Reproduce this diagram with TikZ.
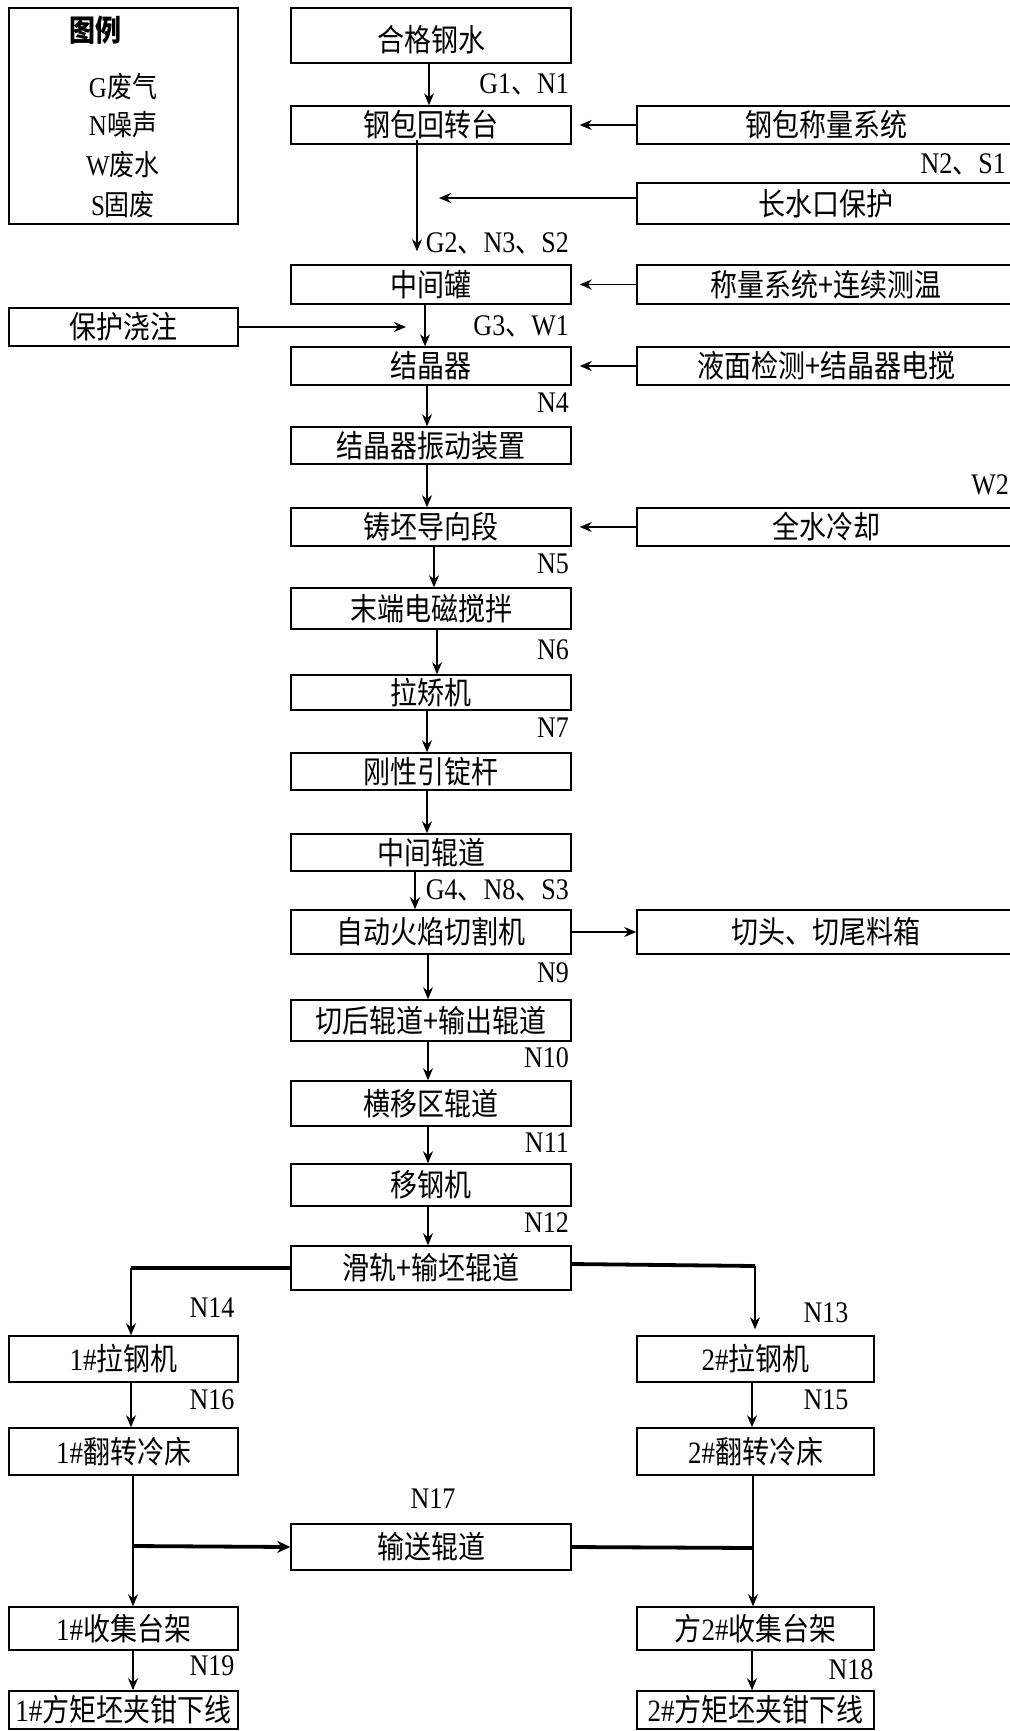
\documentclass[tikz,border=0pt]{standalone}
\usepackage{graphicx}
\usepackage{fontspec}
\setmainfont{Noto Sans CJK SC}
\newfontfamily\cjk{Noto Sans CJK SC}
\newfontfamily\tnr{Liberation Serif}
\usetikzlibrary{arrows.meta}
\newcommand\tl[1]{\scalebox{1}[1.15]{#1}}
\newcommand\dun{{\cjk 、}}
\newcommand\hs[1]{{\tnr #1}}
\begin{document}
\begin{tikzpicture}[x=1pt,y=-1pt,
  box/.style={draw, line width=1.5pt, inner sep=0pt, font=\fontsize{27}{30}\selectfont},
  lab/.style={inner sep=0pt, font=\tnr\fontsize{26}{28}\selectfont},
  arr/.style={-{Stealth[length=12pt,width=10pt]}, line width=1.2pt},
  heavy/.style={line width=3.8pt},
  heavyarr/.style={-{Stealth[length=13pt,width=12pt]}, line width=3.8pt}
]
\useasboundingbox (0,0) rectangle (1009,1731);
\fill[white] (0,0) rectangle (1009,1731);

% legend
\node[box, minimum width=229pt, minimum height=216pt] (leg) at (123.5,116) {};
\node[inner sep=0pt, font=\fontsize{26}{30}\selectfont\bfseries] (legt) at (95,30) {\tl{图例}};
\node[inner sep=0pt, font=\fontsize{25}{28}\selectfont] (lg1) at (123,87) {\tl{\hs{G}废气}};
\node[inner sep=0pt, font=\fontsize{25}{28}\selectfont] (lg2) at (123,125) {\tl{\hs{N}噪声}};
\node[inner sep=0pt, font=\fontsize{25}{28}\selectfont] (lg3) at (123,165) {\tl{\hs{W}废水}};
\node[inner sep=0pt, font=\fontsize{25}{28}\selectfont] (lg4) at (123,205) {\tl{\hs{S}固废}};

% main column
\node[box, minimum width=280pt, minimum height=55pt] (hege) at (431,35.5) {\raisebox{-16.5pt}[0pt][0pt]{\tl{合格钢水}}};
\node[box, minimum width=280pt, minimum height=38pt] (gb) at (431,125) {\tl{钢包回转台}};
\node[box, minimum width=280pt, minimum height=39pt] (zjg) at (431,284.5) {\tl{中间罐}};
\node[box, minimum width=280pt, minimum height=38pt] (jjq) at (431,366) {\tl{结晶器}};
\node[box, minimum width=280pt, minimum height=37pt] (zd) at (431,445.5) {\tl{结晶器振动装置}};
\node[box, minimum width=280pt, minimum height=38pt] (dx) at (431,527) {\tl{铸坯导向段}};
\node[box, minimum width=280pt, minimum height=41pt] (md) at (431,608.5) {\tl{末端电磁搅拌}};
\node[box, minimum width=280pt, minimum height=35pt] (lj) at (431,692.5) {\tl{拉矫机}};
\node[box, minimum width=280pt, minimum height=37pt] (gx) at (431,771.5) {\tl{刚性引锭杆}};
\node[box, minimum width=280pt, minimum height=37pt] (zjgd) at (431,852.5) {\tl{中间辊道}};
\node[box, minimum width=280pt, minimum height=44pt] (qg) at (431,932) {\tl{自动火焰切割机}};
\node[box, minimum width=280pt, minimum height=41pt] (qh) at (431,1020.5) {\tl{切后辊道+输出辊道}};
\node[box, minimum width=280pt, minimum height=45pt] (hy) at (431,1103.5) {\tl{横移区辊道}};
\node[box, minimum width=280pt, minimum height=42pt] (ygj) at (431,1185) {\tl{移钢机}};
\node[box, minimum width=280pt, minimum height=44pt] (hg) at (431,1268) {\tl{滑轨+输坯辊道}};
\node[box, minimum width=280pt, minimum height=46pt] (ss) at (431,1547) {\tl{输送辊道}};

% right column
\node[box, minimum width=378pt, minimum height=38pt] (cl) at (826,125) {\tl{钢包称量系统}};
\node[box, minimum width=378pt, minimum height=41pt] (csk) at (826,203.5) {\tl{长水口保护}};
\node[box, minimum width=378pt, minimum height=39pt] (cw) at (826,284.5) {\tl{称量系统+连续测温}};
\node[box, minimum width=378pt, minimum height=38pt] (ym) at (826,366) {\tl{液面检测+结晶器电搅}};
\node[box, minimum width=378pt, minimum height=38pt] (qs) at (826,527) {\tl{全水冷却}};
\node[box, minimum width=378pt, minimum height=44pt] (qt) at (826,932) {\tl{切头、切尾料箱}};

% left
\node[box, minimum width=229pt, minimum height=38pt] (bh) at (123.5,327) {\tl{保护浇注}};

% bottom left
\node[box, minimum width=229pt, minimum height=46pt] (lg) at (123.5,1359) {\tl{\hs{1\#}拉钢机}};
\node[box, minimum width=229pt, minimum height=47pt] (lf) at (123.5,1451.5) {\tl{\hs{1\#}翻转冷床}};
\node[box, minimum width=229pt, minimum height=43pt] (lsj) at (123.5,1628.5) {\tl{\hs{1\#}收集台架}};
\node[box, minimum width=229pt, minimum height=38pt] (ljq) at (123.5,1710) {\tl{\hs{1\#}方矩坯夹钳下线}};
% bottom right
\node[box, minimum width=237pt, minimum height=46pt] (rg) at (755.5,1359) {\tl{\hs{2\#}拉钢机}};
\node[box, minimum width=237pt, minimum height=47pt] (rf) at (755.5,1451.5) {\tl{\hs{2\#}翻转冷床}};
\node[box, minimum width=237pt, minimum height=43pt] (rsj) at (755.5,1628.5) {\tl{方\hs{2\#}收集台架}};
\node[box, minimum width=237pt, minimum height=38pt] (rjq) at (755.5,1710) {\tl{\hs{2\#}方矩坯夹钳下线}};

% labels
\node[lab, anchor=east] (l1) at (569,84) {\tl{G1\dun N1}};
\node[lab, anchor=east] (l2) at (1006,164) {\tl{N2\dun S1}};
\node[lab, anchor=east] (l3) at (569,243) {\tl{G2\dun N3\dun S2}};
\node[lab, anchor=east] (l4) at (569,326) {\tl{G3\dun W1}};
\node[lab, anchor=east] (l5) at (569,403) {\tl{N4}};
\node[lab, anchor=east] (l6) at (1009,485) {\tl{W2}};
\node[lab, anchor=east] (l7) at (569,564) {\tl{N5}};
\node[lab, anchor=east] (l8) at (569,650) {\tl{N6}};
\node[lab, anchor=east] (l9) at (569,728) {\tl{N7}};
\node[lab, anchor=east] (l10) at (569,890) {\tl{G4\dun N8\dun S3}};
\node[lab, anchor=east] (l11) at (569,973) {\tl{N9}};
\node[lab, anchor=east] (l12) at (569,1058) {\tl{N10}};
\node[lab, anchor=east] (l13) at (569,1143) {\tl{N11}};
\node[lab, anchor=east] (l14) at (569,1223) {\tl{N12}};
\node[lab] (l15) at (212,1308) {\tl{N14}};
\node[lab] (l16) at (826,1313) {\tl{N13}};
\node[lab] (l17) at (212,1400) {\tl{N16}};
\node[lab] (l18) at (826,1400) {\tl{N15}};
\node[lab] (l19) at (433,1499) {\tl{N17}};
\node[lab] (l20) at (212,1666) {\tl{N19}};
\node[lab] (l21) at (851,1670) {\tl{N18}};

% coordinates
\coordinate (csktip) at (439,198);
\coordinate (bhtip) at (406,327);
\coordinate (lb) at (131,1268);
\coordinate (rb) at (755,1266);
\coordinate (lm) at (133,1546);
\coordinate (rm) at (753,1548);

% connectors main
\draw[arr] ([xshift=-2pt]hege.south) -- ([xshift=-2pt]gb.north);
\draw[arr, shorten >=8pt] (cl.west) -- (gb.east);
\draw[arr, shorten >=13pt] ([xshift=-14pt,yshift=5pt]gb.south) -- ([xshift=-14pt]zjg.north);
\draw[arr] (csk.west |- csktip) -- (csktip);
\draw[arr, shorten >=8pt] (cw.west) -- (zjg.east);
\draw[arr] ([xshift=-6pt]zjg.south) -- ([xshift=-6pt]jjq.north);
\draw[arr] (bh.east) -- (bhtip);
\draw[arr, shorten >=8pt] (ym.west) -- (jjq.east);
\draw[arr] ([xshift=-4pt]jjq.south) -- ([xshift=-4pt]zd.north);
\draw[arr] ([xshift=-4pt]zd.south) -- ([xshift=-4pt]dx.north);
\draw[arr, shorten >=8pt] (qs.west) -- (dx.east);
\draw[arr] ([xshift=3pt]dx.south) -- ([xshift=3pt]md.north);
\draw[arr] ([xshift=6pt]md.south) -- ([xshift=6pt]lj.north);
\draw[arr] ([xshift=-4pt]lj.south) -- ([xshift=-4pt]gx.north);
\draw[arr] ([xshift=-4pt]gx.south) -- ([xshift=-4pt]zjgd.north);
\draw[arr] ([xshift=-16pt]zjgd.south) -- ([xshift=-16pt]qg.north);
\draw[arr] (qg.east) -- (qt.west);
\draw[arr] ([xshift=-3pt]qg.south) -- ([xshift=-3pt]qh.north);
\draw[arr] ([xshift=-3pt]qh.south) -- ([xshift=-3pt]hy.north);
\draw[arr] ([xshift=-3pt]hy.south) -- ([xshift=-3pt]ygj.north);
\draw[arr] ([xshift=-3pt]ygj.south) -- ([xshift=-3pt]hg.north);

% branches
\draw[heavy] (hg.west) -- (lb);
\draw[arr] (lb) -- ([xshift=7.5pt]lg.north);
\draw[heavy] ([yshift=4pt]hg.east) -- (rb);
\draw[arr, shorten >=6pt] (rb) -- ([xshift=-0.5pt]rg.north);
\draw[arr] ([xshift=7.5pt]lg.south) -- ([xshift=7.5pt]lf.north);
\draw[arr] ([xshift=-3.5pt]rg.south) -- ([xshift=-3.5pt]rf.north);
\draw[arr] ([xshift=9.5pt]lf.south) -- ([xshift=9.5pt]lsj.north);
\draw[heavyarr] (lm) -- (ss.west);
\draw[arr] ([xshift=-2.5pt]rf.south) -- ([xshift=-2.5pt]rsj.north);
\draw[heavy] (ss.east) -- (rm);
\draw[arr] ([xshift=9.5pt]lsj.south) -- ([xshift=9.5pt]ljq.north);
\draw[arr] ([xshift=-3.5pt]rsj.south) -- ([xshift=-3.5pt]rjq.north);
\end{tikzpicture}
\end{document}
